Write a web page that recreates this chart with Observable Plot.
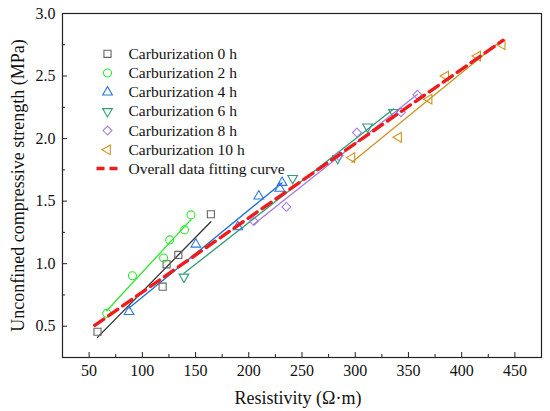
<!DOCTYPE html>
<html><head><meta charset="utf-8">
<script src="https://cdn.jsdelivr.net/npm/d3@7"></script>
<script src="https://cdn.jsdelivr.net/npm/@observablehq/plot@0.6"></script>
<style>body{margin:0;background:#fff}</style>
</head><body><div id="chart"></div>
<script>
// Series labels
const seriesLabels = ["Carburization 0 h","Carburization 2 h","Carburization 4 h","Carburization 6 h","Carburization 8 h","Carburization 10 h"];
const fitLabel = "Overall data fitting curve";

// Resistivity (Ω·m) and UCS (MPa) per carburization time
const res0h = [57.9, 119.1, 122.8, 133.8, 164.4];
const ucs0h = [0.456, 0.816, 0.995, 1.07, 1.395];
const res2h = [66.6, 90.7, 120.0, 125.7, 139.7, 145.7];
const ucs2h = [0.603, 0.904, 1.046, 1.19, 1.27, 1.39];
const res4h = [87.5, 150.3, 189.7, 209.4, 229.1, 231.3];
const ucs4h = [0.616, 1.155, 1.294, 1.54, 1.602, 1.648];
const res6h = [139.1, 241.2, 283.5, 311.6, 336.0];
const ucs6h = [0.894, 1.683, 1.843, 2.094, 2.21];
const res8h = [204.7, 235.3, 284.4, 301.6, 343.0, 358.4];
const ucs8h = [1.34, 1.454, 1.862, 2.048, 2.21, 2.35];
const res10h = [296.9, 340.7, 369.4, 385.0, 415.0, 438.1];
const ucs10h = [1.848, 2.01, 2.315, 2.50, 2.66, 2.75];

// Overall fitting curve (end points)
const fitRes = [55.3, 438.8];
const fitUcs = [0.507, 2.785];

// Tick values
const xTicks = [50,100,150,200,250,300,350,400,450];
const xMinorTicks = [75,125,175,225,275,325,375,425];
const yTicks = [0.5,1.0,1.5,2.0,2.5,3.0];
const yMinorTicks = [0.75,1.25,1.75,2.25,2.75];

// Styles
const markerColors = ["#666666","#2ee82e","#2a78dc","#2e9e74","#a57be0","#cc9420"];
const lineColors   = ["#333333","#2ee82e","#1a6fd6","#2e9e74","#a57be0","#cc9420"];
const symbols = ["square","circle","triangle","triangle","diamond2","triangle"];
const rotations = [0,0,0,180,0,-90];
const radii = [4,4,3.6,3.6,4,3.6];
const fitColor = "#ee1c1c";

const resAll = [res0h,res2h,res4h,res6h,res8h,res10h];
const ucsAll = [ucs0h,ucs2h,ucs4h,ucs6h,ucs8h,ucs10h];
const rows = resAll.flatMap((xs, i) => xs.map((x, j) => ({x, y: ucsAll[i][j], s: i})));
const fitRows = fitRes.map((x, j) => ({x, y: fitUcs[j]}));

const font = '"Liberation Serif","Times New Roman",serif';
const marks = [];

// per-series fit lines
seriesLabels.forEach((lab, i) => {
  marks.push(Plot.linearRegressionY(rows.filter(d => d.s === i), {x:"x", y:"y", stroke: lineColors[i], strokeWidth: 1.3, ci: 0}));
});
// markers
seriesLabels.forEach((lab, i) => {
  marks.push(Plot.dot(rows.filter(d => d.s === i), {x:"x", y:"y", symbol: symbols[i], rotate: rotations[i], r: radii[i], stroke: markerColors[i], strokeWidth: 1.1, fill: "none"}));
});
// overall fit
marks.push(Plot.line(fitRows, {x:"x", y:"y", stroke: fitColor, strokeWidth: 3.4, strokeDasharray: "11,6"}));

// axes
marks.push(Plot.frame({stroke:"#222", strokeWidth: 1.2}));
marks.push(Plot.axisX({ticks: xTicks, tickSize: -5, tickPadding: 12, tickFormat: d => String(d), fontSize: 16, label: null, stroke:"#222"}));
marks.push(Plot.axisX({ticks: xMinorTicks, tickSize: -3, tickPadding: 12, tickFormat: () => "", label: null, stroke:"#222"}));
marks.push(Plot.axisY({ticks: yTicks, tickSize: -5, tickPadding: 12, tickFormat: d3.format(".1f"), fontSize: 16, label: null, stroke:"#222"}));
marks.push(Plot.axisY({ticks: yMinorTicks, tickSize: -3, tickPadding: 12, tickFormat: () => "", label: null, stroke:"#222"}));

// axis titles
marks.push(Plot.text(["Resistivity (Ω·m)"], {frameAnchor: "bottom", dy: 41, dx: -4, textAnchor: "middle", lineAnchor: "middle", fontSize: 18, fill: "#111"}));
marks.push(Plot.text(["Unconfined compressive strength (MPa)"], {frameAnchor: "left", dx: -44, rotate: -90, textAnchor: "middle", lineAnchor: "middle", fontSize: 18, fill: "#111"}));

// legend
const legendStep = 19.2, legendTop = 40.3;
seriesLabels.forEach((lab, i) => {
  marks.push(Plot.dot([lab], {frameAnchor: "top-left", dx: 45, dy: legendTop + i*legendStep, symbol: symbols[i], rotate: rotations[i], r: radii[i], stroke: markerColors[i], strokeWidth: 1.1, fill: "none"}));
  marks.push(Plot.text([lab], {frameAnchor: "top-left", dx: 66, dy: legendTop + i*legendStep, textAnchor: "start", lineAnchor: "middle", fontSize: 15.5, fill: "#111"}));
});
marks.push(Plot.text([fitLabel], {frameAnchor: "top-left", dx: 66, dy: legendTop + 6*legendStep, textAnchor: "start", lineAnchor: "middle", fontSize: 15.5, fill: "#111"}));

const chart = Plot.plot({
  width: 550, height: 411,
  marginLeft: 62, marginRight: 9, marginTop: 13, marginBottom: 54,
  style: {fontFamily: font, fontSize: "15px", color: "#111", background: "#fff"},
  x: {domain: [25, 475]},
  y: {domain: [0.25, 3.0]},
  marks
});
// dashed legend sample
const sy = 13 + legendTop + 6*legendStep;
d3.select(chart).append("line")
  .attr("x1", 62 + 34.5).attr("x2", 62 + 55.5)
  .attr("y1", sy).attr("y2", sy)
  .attr("stroke", fitColor).attr("stroke-width", 3.4).attr("stroke-dasharray", "8,5");
document.getElementById("chart").append(chart);
</script>
</body></html>
